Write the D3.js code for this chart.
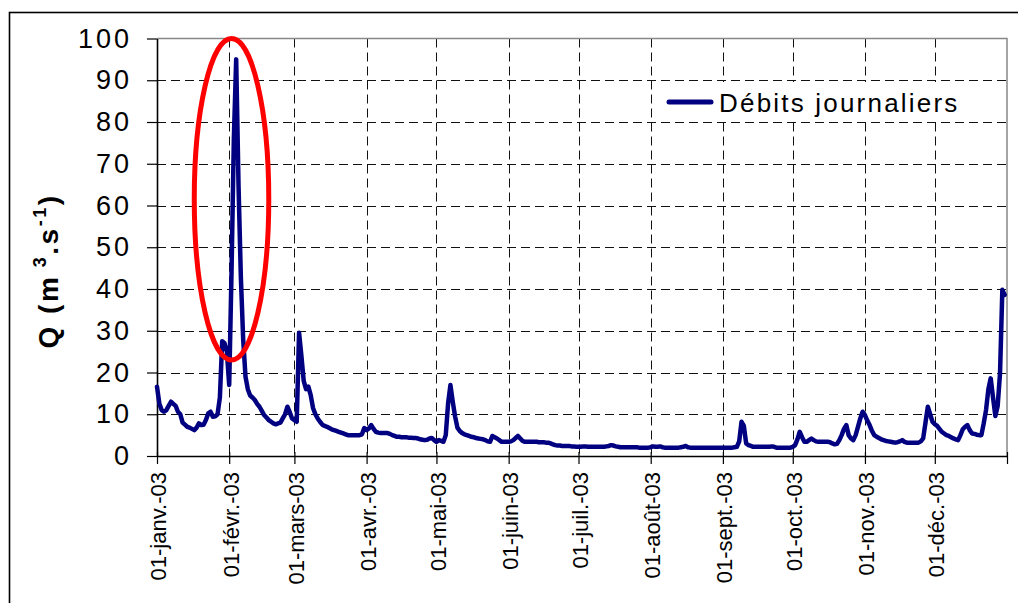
<!DOCTYPE html>
<html>
<head>
<meta charset="utf-8">
<script src="https://cdn.jsdelivr.net/npm/d3@7"></script>
<style>
  body { margin: 0; background: #fff; }
  svg { display: block; }
  text { font-family: "Liberation Sans", Arial, Helvetica, sans-serif; }
</style>
</head>
<body>
<svg id="chart" width="1018" height="603"></svg>
<script>
// Daily discharge, 2003 (m3/s), one array per month
const janFlow = [16.6, 12.6, 11, 10.6, 11, 12, 13, 12.5, 12, 10.6, 10, 8, 7.5, 7, 6.8, 6.5, 6.2, 6.8, 7.8, 7.4, 7.5, 8.6, 10.2, 10.6, 9.4, 9.5, 10, 14, 27.5, 27, 25];
const febFlow = [17, 44, 76, 95, 65, 43, 28, 19, 16, 14.5, 14, 13.4, 12.5, 11.8, 10.8, 9.8, 9.2, 8.6, 8.2, 7.8, 7.6, 7.8, 8, 9, 10, 11.8, 10.5, 9];
const marFlow = [8.6, 8.2, 29.5, 24, 18, 16, 16.6, 14.6, 11.5, 10, 9, 8.2, 7.5, 7.2, 7, 6.7, 6.4, 6.2, 6, 5.8, 5.6, 5.4, 5.2, 5, 5, 5, 5, 5, 5, 5.2, 6.7];
const aprFlow = [6.2, 6.6, 7.4, 6.5, 5.8, 5.6, 5.5, 5.5, 5.5, 5.5, 5.3, 5, 4.8, 4.6, 4.6, 4.5, 4.5, 4.5, 4.4, 4.4, 4.3, 4.3, 4.2, 4, 3.9, 3.8, 3.9, 4.2, 4.3, 3.8];
const mayFlow = [3.4, 3.8, 3.6, 3.4, 5, 12.6, 17, 13, 9.5, 6.8, 6, 5.5, 5.2, 5, 4.8, 4.6, 4.5, 4.3, 4.2, 4.1, 4, 3.8, 3.5, 3.4, 4.8, 4.5, 4.2, 3.8, 3.4, 3.4, 3.4];
const junFlow = [3.4, 3.5, 3.8, 4.3, 4.8, 4.2, 3.6, 3.4, 3.4, 3.4, 3.4, 3.4, 3.4, 3.3, 3.3, 3.3, 3.2, 3.2, 3.0, 2.8, 2.6, 2.5, 2.5, 2.4, 2.4, 2.4, 2.4, 2.3, 2.3, 2.2];
const julFlow = [2.2, 2.2, 2.3, 2.3, 2.2, 2.2, 2.2, 2.2, 2.2, 2.2, 2.2, 2.2, 2.3, 2.4, 2.6, 2.5, 2.3, 2.2, 2.1, 2.1, 2.1, 2.1, 2.1, 2.1, 2.1, 2.1, 2.0, 2.0, 2.0, 2.0, 2.0];
const augFlow = [2.1, 2.3, 2.2, 2.2, 2.3, 2.1, 2.0, 2.0, 2.0, 2.0, 2.0, 2.0, 2.0, 2.1, 2.2, 2.4, 2.1, 2.0, 2.0, 2.0, 2.0, 2.0, 2.0, 2.0, 2.0, 2.0, 2.0, 2.0, 2.0, 2.0, 2.0];
const sepFlow = [2.0, 2.0, 2.0, 2.0, 2.0, 2.1, 2.2, 3.5, 8.2, 7.2, 3.0, 2.6, 2.4, 2.2, 2.2, 2.2, 2.2, 2.2, 2.2, 2.2, 2.2, 2.3, 2.2, 2.0, 2.0, 2.0, 2.0, 2.0, 2.0, 2.0];
const octFlow = [2.2, 2.6, 4.0, 5.8, 4.5, 3.4, 3.4, 3.8, 4.2, 3.8, 3.5, 3.4, 3.4, 3.4, 3.4, 3.4, 3.3, 3.0, 2.8, 2.9, 3.8, 5.0, 6.5, 7.4, 5.0, 4.2, 3.8, 5.0, 7.0, 9.0, 10.6];
const novFlow = [9.8, 8.5, 7.4, 6.0, 5.0, 4.6, 4.3, 4.0, 3.8, 3.6, 3.5, 3.4, 3.3, 3.2, 3.3, 3.5, 3.8, 3.4, 3.2, 3.2, 3.2, 3.2, 3.2, 3.2, 3.5, 4.2, 8.0, 11.8, 10.0, 8.2];
const decFlow = [7.6, 7.2, 6.5, 5.8, 5.4, 5.0, 4.8, 4.5, 4.2, 4.0, 3.8, 5.0, 6.4, 7.0, 7.4, 6.2, 5.4, 5.3, 5.1, 5.0, 5.0, 7.8, 11.0, 16.0, 18.6, 14.0, 9.6, 12.0, 19.8, 39.8, 38.6];

const monthLabels = ["01-janv.-03", "01-févr.-03", "01-mars-03", "01-avr.-03", "01-mai-03", "01-juin-03",
                     "01-juil.-03", "01-août-03", "01-sept.-03", "01-oct.-03", "01-nov.-03", "01-déc.-03"];
const yTicks = [0, 10, 20, 30, 40, 50, 60, 70, 80, 90, 100];
const seriesName = "Débits journaliers";

// Flood event circled on the chart (date span and discharge span)
const floodWindow = { from: "2003-01-17", to: "2003-02-18", low: 23, high: 100 };

const parseDay = d3.timeParse("%Y-%m-%d");
const yearStart = new Date(2003, 0, 1);
const yearEnd = new Date(2004, 0, 1);

const daily = [janFlow, febFlow, marFlow, aprFlow, mayFlow, junFlow,
               julFlow, augFlow, sepFlow, octFlow, novFlow, decFlow]
  .flat()
  .map((q, i) => ({ date: d3.timeDay.offset(yearStart, i), q }));

const svg = d3.select("#chart");
const plot = { left: 157, right: 1007, top: 38.5, bottom: 456 };

const x = d3.scaleTime().domain([yearStart, yearEnd]).range([plot.left, plot.right]);
const y = d3.scaleLinear().domain([0, 100]).range([plot.bottom, plot.top]);

// Outer chart frame
svg.append("rect")
  .attr("x", 9.5).attr("y", 12.5)
  .attr("width", 1030).attr("height", 620)
  .attr("fill", "#fff").attr("stroke", "#000").attr("stroke-width", 1.6);

// Dashed gridlines
const monthStarts = d3.timeMonth.range(yearStart, d3.timeDay.offset(yearEnd, 1));
const grid = svg.append("g").attr("stroke", "#111").attr("stroke-width", 1).attr("stroke-dasharray", "9,5");
grid.selectAll("line.h")
  .data(yTicks.filter(v => v > 0 && v < 100))
  .join("line").attr("class", "h")
  .attr("x1", plot.left).attr("x2", plot.right)
  .attr("y1", d => Math.round(y(d)) + 0.5).attr("y2", d => Math.round(y(d)) + 0.5);
grid.selectAll("line.v")
  .data(monthStarts.filter(d => +d > +yearStart && +d < +yearEnd))
  .join("line").attr("class", "v")
  .attr("x1", d => Math.round(x(d)) + 0.5).attr("x2", d => Math.round(x(d)) + 0.5)
  .attr("y1", plot.top).attr("y2", plot.bottom);

// Plot border (top and right)
svg.append("path")
  .attr("d", `M${plot.left},${plot.top}H${plot.right}V${plot.bottom}`)
  .attr("fill", "none").attr("stroke", "#888").attr("stroke-width", 1.5);

// Y axis
const yAxis = svg.append("g")
  .attr("transform", `translate(${plot.left},0)`)
  .call(d3.axisLeft(y).tickValues(yTicks).tickSize(10).tickSizeOuter(0).tickPadding(15));
yAxis.select(".domain").attr("stroke", "#000").attr("stroke-width", 1.6);
yAxis.selectAll(".tick line").attr("stroke", "#000").attr("stroke-width", 1.2);
yAxis.selectAll(".tick text")
  .attr("font-size", 27).attr("letter-spacing", 3).attr("fill", "#000")
  .attr("font-family", "Liberation Sans, Arial, sans-serif");

// X axis with crossing tick marks
const xAxis = svg.append("g")
  .attr("transform", `translate(0,${plot.bottom})`)
  .call(d3.axisBottom(x).tickValues(monthStarts).tickSize(8).tickSizeOuter(0)
    .tickFormat((d, i) => monthLabels[i] || ""));
xAxis.select(".domain").attr("stroke", "#000").attr("stroke-width", 1.6);
xAxis.selectAll(".tick line").attr("y1", -4).attr("stroke", "#000").attr("stroke-width", 1.2);
xAxis.selectAll(".tick text")
  .attr("transform", "rotate(-90)")
  .attr("text-anchor", "end")
  .attr("x", -16).attr("y", 0).attr("dy", "0.4em")
  .attr("font-size", 22).attr("fill", "#000")
  .attr("font-family", "Liberation Sans, Arial, sans-serif");

// Y axis title
const yTitle = svg.append("text")
  .attr("transform", "translate(58,271) rotate(-90)")
  .attr("text-anchor", "middle")
  .attr("font-size", 28).attr("font-weight", "bold").attr("letter-spacing", 2.5);
yTitle.append("tspan").text("Q (m");
yTitle.append("tspan").attr("font-size", 18).attr("dy", "-12").text(" 3");
yTitle.append("tspan").attr("dy", "12").text(".s");
yTitle.append("tspan").attr("font-size", 18).attr("dy", "-12").text("-1");
yTitle.append("tspan").attr("dy", "12").text(")");

// Discharge line
const line = d3.line().x(d => x(d.date)).y(d => y(d.q));
svg.append("path")
  .datum(daily)
  .attr("d", line)
  .attr("fill", "none")
  .attr("stroke", "#000080")
  .attr("stroke-width", 4.5)
  .attr("stroke-linejoin", "round")
  .attr("stroke-linecap", "round");

// Flood highlight ellipse
const ex0 = x(parseDay(floodWindow.from)), ex1 = x(parseDay(floodWindow.to));
const ey0 = y(floodWindow.high), ey1 = y(floodWindow.low);
svg.append("ellipse")
  .attr("cx", (ex0 + ex1) / 2).attr("cy", (ey0 + ey1) / 2)
  .attr("rx", (ex1 - ex0) / 2).attr("ry", (ey1 - ey0) / 2)
  .attr("fill", "none").attr("stroke", "#ff0000").attr("stroke-width", 5);

// Legend
const legend = svg.append("g");
legend.append("rect")
  .attr("x", 657).attr("y", 82).attr("width", 326).attr("height", 37).attr("fill", "#fff");
legend.append("line")
  .attr("x1", 669).attr("x2", 711).attr("y1", 102).attr("y2", 102)
  .attr("stroke", "#000080").attr("stroke-width", 5).attr("stroke-linecap", "round");
legend.append("text")
  .attr("x", 719).attr("y", 111.5)
  .attr("font-size", 26).attr("letter-spacing", 2.2).attr("fill", "#000")
  .text(seriesName);
</script>
</body>
</html>
